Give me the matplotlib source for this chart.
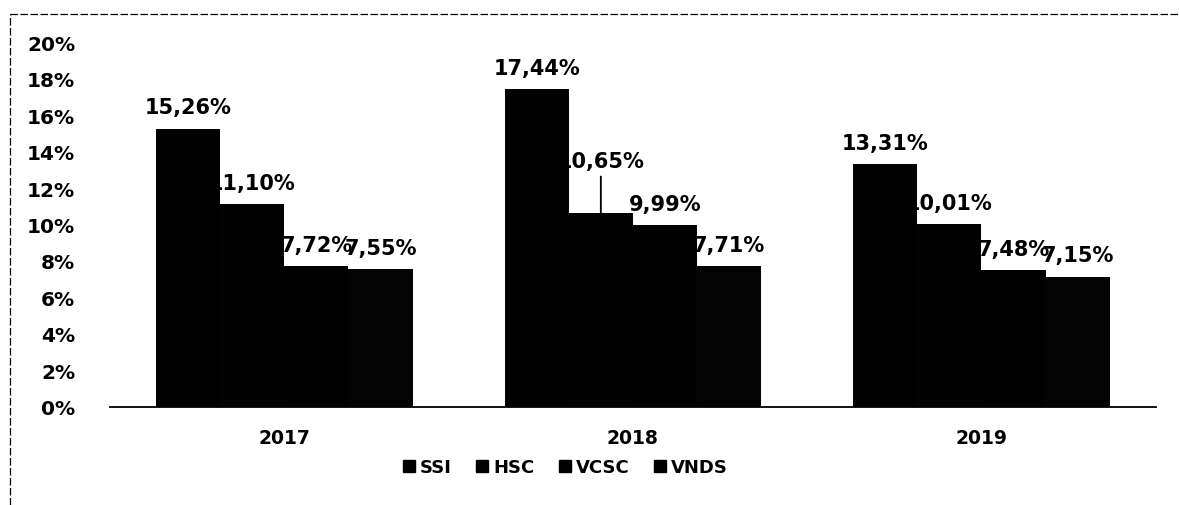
"""Grouped bar chart: SSI / HSC / VCSC / VNDS percentages by year."""

import numpy as np
import matplotlib
matplotlib.use('Agg')
import matplotlib.pyplot as plt
import matplotlib.ticker as mticker
from matplotlib.lines import Line2D


years = ['2017', '2018', '2019']
series = ['SSI', 'HSC', 'VCSC', 'VNDS']
ssi = [15.26, 17.44, 13.31]
hsc = [11.10, 10.65, 10.01]
vcsc = [7.72, 9.99, 7.48]
vnds = [7.55, 7.71, 7.15]
yticks = [0, 2, 4, 6, 8, 10, 12, 14, 16, 18, 20]


def _fmt(v):
    return f"{v:.2f}%".replace('.', ',')


fig = plt.figure(figsize=(11.79, 5.06), dpi=100)
ax = fig.add_axes([0.0933, 0.1937, 0.887, 0.7213])

x = np.arange(len(years))
width = 0.184
data = [ssi, hsc, vcsc, vnds]
colors = ['#000000', '#020202', '#010101', '#030303']

for i, (name, vals) in enumerate(zip(series, data)):
    pos = x + (i - 1.5) * width
    ax.bar(pos, vals, width=width, color=colors[i], edgecolor='none',
           label=name, zorder=3)
    for px, v in zip(pos, vals):
        if name == 'HSC' and v == 10.65:
            # label moved up, with a leader line
            ax.annotate(_fmt(v), xy=(px, v), xytext=(0, 30),
                        textcoords='offset points', ha='center', va='bottom',
                        fontsize=15, fontweight='bold', zorder=2,
                        arrowprops=dict(arrowstyle='-', color='black', lw=1.3,
                                        shrinkA=2, shrinkB=0))
        else:
            ax.annotate(_fmt(v), xy=(px, v), xytext=(0, 8),
                        textcoords='offset points', ha='center', va='bottom',
                        fontsize=15, fontweight='bold', zorder=2)

ax.set_xlim(-0.5, 2.5)
ax.set_ylim(0, 20)
ax.set_yticks(yticks)
ax.yaxis.set_major_formatter(mticker.FuncFormatter(lambda v, p: f"{int(v)}%"))
ax.set_xticks(x)
ax.set_xticklabels(years)
ax.tick_params(axis='y', length=0, labelsize=14.5, pad=25)
ax.tick_params(axis='x', length=0, labelsize=13.5, pad=15)
for lbl in ax.get_xticklabels() + ax.get_yticklabels():
    lbl.set_fontweight('bold')

for s in ['top', 'right', 'left']:
    ax.spines[s].set_visible(False)
ax.spines['bottom'].set_color('black')
ax.spines['bottom'].set_linewidth(1.3)

handles = [Line2D([0], [0], marker='s', color='none', markerfacecolor='black',
                  markeredgecolor='black', markersize=9, label=s) for s in series]
fig.legend(handles=handles, loc='center', bbox_to_anchor=(0.479, 0.075),
           bbox_transform=fig.transFigure, ncol=4, frameon=False,
           prop={'size': 13, 'weight': 'bold'}, handlelength=0.8,
           handletextpad=0.2, columnspacing=1.3)

# scanned frame edges (top and left only)
fig.add_artist(Line2D([0.0085, 1.0], [0.970, 0.970], transform=fig.transFigure,
                      color='black', lw=0.9, ls=(0, (6, 2))))
fig.add_artist(Line2D([0.0085, 0.0085], [0.0, 0.970], transform=fig.transFigure,
                      color='black', lw=0.9, ls=(0, (6, 2))))

fig.savefig('out.png', dpi=100, facecolor='white')
plt.close(fig)
